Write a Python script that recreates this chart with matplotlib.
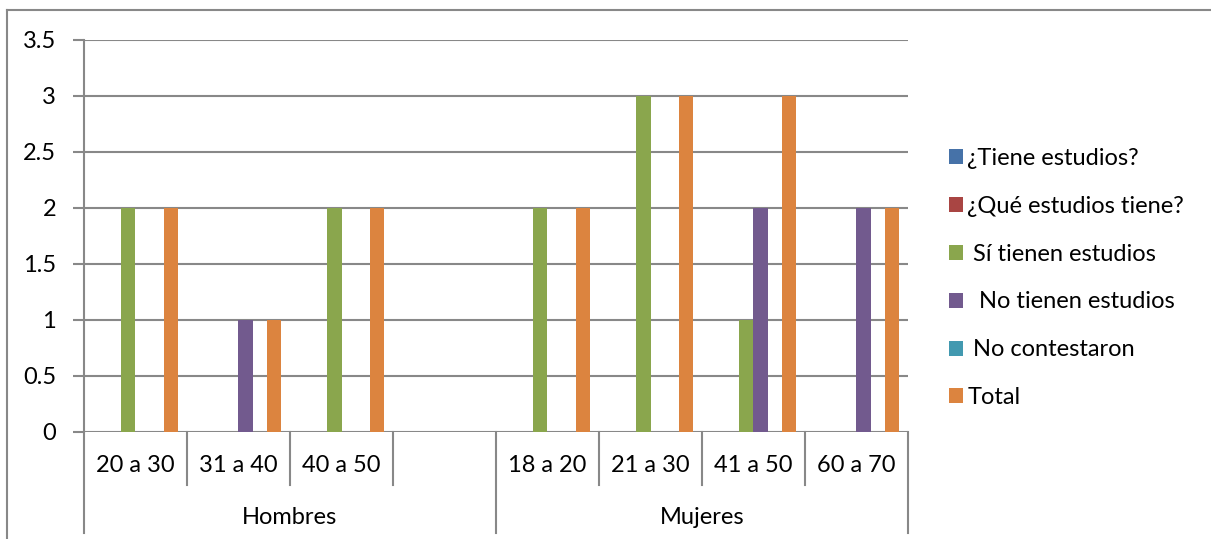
import matplotlib
matplotlib.use("Agg")
import matplotlib.pyplot as plt
import matplotlib.transforms as mtransforms
import numpy as np

categories = ["20 a 30", "31 a 40", "40 a 50", "", "18 a 20", "21 a 30", "41 a 50", "60 a 70"]
groups = ["Hombres", "Mujeres"]
group_sizes = [4, 4]
series_names = ["¿Tiene estudios?", "¿Qué estudios tiene?", " Sí tienen estudios",
                "  No tienen estudios", " No contestaron", "Total"]
tiene = [0, 0, 0, 0, 0, 0, 0, 0]
que = [0, 0, 0, 0, 0, 0, 0, 0]
si = [2, 0, 2, 0, 2, 3, 1, 0]
no = [0, 1, 0, 0, 0, 0, 2, 2]
nocont = [0, 0, 0, 0, 0, 0, 0, 0]
total = [2, 1, 2, 0, 2, 3, 3, 2]
series_values = [tiene, que, si, no, nocont, total]
colors = ["#4672A8", "#A94543", "#8AA64D", "#725A8E", "#4299B0", "#DC843F"]
yticks = [0, 0.5, 1, 1.5, 2, 2.5, 3, 3.5]

plt.rcParams['font.family'] = ['Lato', 'DejaVu Sans']
W, H = 1211, 539
fig = plt.figure(figsize=(W / 100, H / 100), dpi=100)
gray = "#888888"
fs = 17

# outer chart border
fig.add_artist(plt.Line2D([7 / W, 7 / W], [0, 1 - 10 / H], color=gray, lw=1.5))
fig.add_artist(plt.Line2D([7 / W, 1], [1 - 10 / H, 1 - 10 / H], color=gray, lw=1.5))

ax = fig.add_axes([84 / W, 1 - 432 / H, (908 - 84) / W, (432 - 40) / H])
n = len(categories)
x = np.arange(n)
bw = 0.136
for i, (vals, c, name) in enumerate(zip(series_values, colors, series_names)):
    ax.bar(x + (i - 2.5) * bw, vals, width=bw, color=c, label=name, zorder=3)

ax.set_xlim(-0.5, n - 0.5)
ax.set_ylim(0, 3.5)
ax.set_yticks(yticks)
ax.set_yticklabels([f"{v:g}" for v in yticks], fontsize=fs)
ax.tick_params(axis='y', length=8, width=1.5, color=gray, pad=12)
ax.tick_params(axis='x', length=0, labelbottom=False)
ax.grid(axis='y', color=gray, lw=1.5, zorder=0)
for s in ["top", "right", "bottom"]:
    ax.spines[s].set_visible(False)
ax.spines["left"].set_color(gray)
ax.spines["left"].set_linewidth(1.5)

trans = mtransforms.blended_transform_factory(ax.transData, ax.transAxes)
axh = 392.0
bounds = [-0.5]
for gs in group_sizes:
    bounds.append(bounds[-1] + gs)
gb = set(bounds)
for b in np.arange(-0.5, n, 1.0):
    bottom = -(533 - 432) / axh if b in gb else -(485 - 432) / axh
    ax.plot([b, b], [0, bottom], transform=trans, color=gray, lw=1.5, clip_on=False)
for i, lab in enumerate(categories):
    ax.text(i, -(466 - 432) / axh, lab, transform=trans, ha='center', va='center', fontsize=fs)
for g, lab in enumerate(groups):
    cx = (bounds[g] + bounds[g + 1]) / 2
    ax.text(cx, -(517 - 432) / axh, lab, transform=trans, ha='center', va='center', fontsize=fs)

leg = ax.legend(loc='center left', bbox_to_anchor=((949 - 84) / 824, 1 - (278 - 40) / 392),
                frameon=False, fontsize=fs, handlelength=0.6, handleheight=0.6,
                handletextpad=0.17, labelspacing=1.14, borderpad=0, borderaxespad=0)

fig.savefig("out.png", dpi=100)
